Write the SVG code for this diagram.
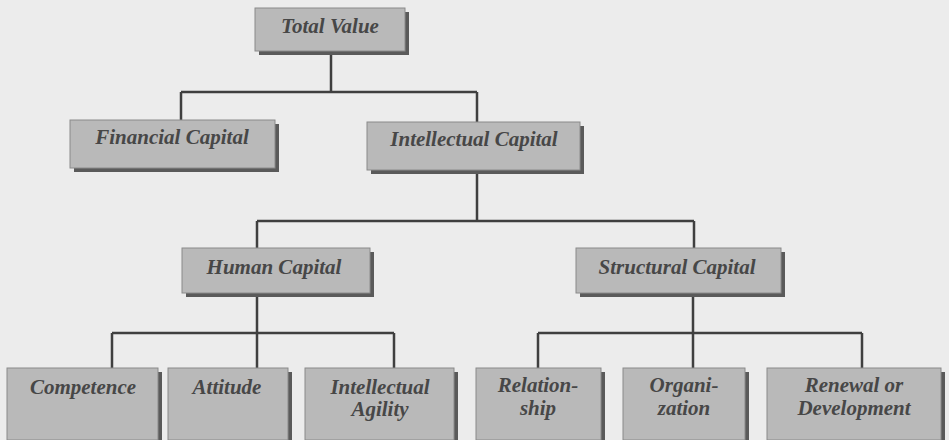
<svg xmlns="http://www.w3.org/2000/svg" width="949" height="440" viewBox="0 0 949 440">
<style>
.box{fill:#b9b9b9;stroke:#8a8a8a;stroke-width:1}
.sh{fill:#5a5a5a}
.t{font-family:"Liberation Serif","Times New Roman",serif;font-weight:bold;font-style:italic;font-size:21px;fill:#474747;text-anchor:middle}
.c{fill:none;stroke:#3f3f3f;stroke-width:2.5}
</style>
<rect width="949" height="440" fill="#ececec"/>
<g id="connectors">
<path class="c" d="M331 52V92M181 92H477M181 92V121M477 92V123"/>
<path class="c" d="M477 171V221M257 221H694M257 221V248M694 221V248"/>
<path class="c" d="M257 293V368M112 333H394M112 333V368M394 333V368"/>
<path class="c" d="M693 293V368M538 333H862M538 333V368M862 333V368"/>
</g>
<g id="total-value">
<rect class="sh" x="259" y="12" width="150" height="43"/>
<rect class="box" x="255" y="8" width="150" height="43"/>
<text class="t" x="330" y="33">Total Value</text>
</g>
<g id="financial-capital">
<rect class="sh" x="74" y="124" width="205" height="48"/>
<rect class="box" x="70" y="120" width="205" height="48"/>
<text class="t" x="172" y="144">Financial Capital</text>
</g>
<g id="intellectual-capital">
<rect class="sh" x="371" y="126" width="213" height="48"/>
<rect class="box" x="367" y="122" width="213" height="48"/>
<text class="t" x="474" y="146">Intellectual Capital</text>
</g>
<g id="human-capital">
<rect class="sh" x="186" y="252" width="188" height="45"/>
<rect class="box" x="182" y="248" width="188" height="45"/>
<text class="t" x="274" y="274">Human Capital</text>
</g>
<g id="structural-capital">
<rect class="sh" x="580" y="252" width="205" height="45"/>
<rect class="box" x="576" y="248" width="205" height="45"/>
<text class="t" x="677" y="274">Structural Capital</text>
</g>
<g id="competence">
<rect class="sh" x="11" y="372" width="151" height="72"/>
<rect class="box" x="7" y="368" width="151" height="72"/>
<text class="t" x="83" y="394">Competence</text>
</g>
<g id="attitude">
<rect class="sh" x="172" y="372" width="120" height="72"/>
<rect class="box" x="168" y="368" width="120" height="72"/>
<text class="t" x="227" y="394">Attitude</text>
</g>
<g id="intellectual-agility">
<rect class="sh" x="309" y="372" width="149" height="72"/>
<rect class="box" x="305" y="368" width="149" height="72"/>
<text class="t" x="380" y="394">Intellectual</text>
<text class="t" x="380" y="416">Agility</text>
</g>
<g id="relationship">
<rect class="sh" x="480" y="372" width="125" height="72"/>
<rect class="box" x="476" y="368" width="125" height="72"/>
<text class="t" x="538" y="392">Relation-</text>
<text class="t" x="538" y="415">ship</text>
</g>
<g id="organization">
<rect class="sh" x="627" y="372" width="122" height="72"/>
<rect class="box" x="623" y="368" width="122" height="72"/>
<text class="t" x="684" y="392">Organi-</text>
<text class="t" x="684" y="415">zation</text>
</g>
<g id="renewal-development">
<rect class="sh" x="771" y="372" width="174" height="72"/>
<rect class="box" x="767" y="368" width="174" height="72"/>
<text class="t" x="854" y="392">Renewal or</text>
<text class="t" x="854" y="415">Development</text>
</g>
</svg>
